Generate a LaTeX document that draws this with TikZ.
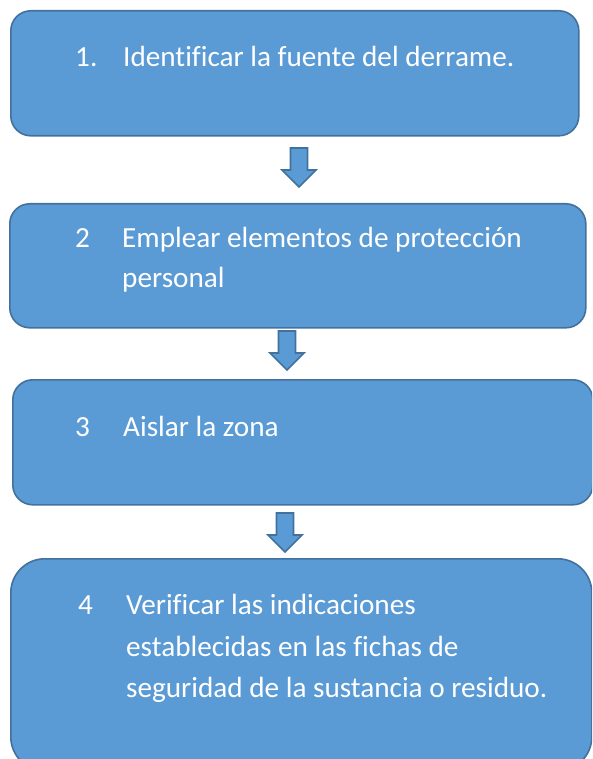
\documentclass[tikz,border=0pt]{standalone}
\usepackage{fontspec}
\setmainfont{Carlito}[Ligatures=NoCommon]
\usetikzlibrary{positioning}

\definecolor{boxfill}{HTML}{5B9BD5}
\definecolor{boxline}{HTML}{41719C}

\tikzset{
  stepbox/.style={draw=boxline, fill=boxfill, line width=1.6pt, rounded corners=20pt, anchor=north west, inner sep=0pt},
  steptext/.style={text=white, anchor=base west, inner sep=0pt, font=\fontsize{29.2}{41}\selectfont},
  downblock/.style={draw=boxline, fill=boxfill, line width=1.6pt, line join=miter}
}

\begin{document}
\begin{tikzpicture}[x=1pt,y=1pt]
    \useasboundingbox (0,0) rectangle (592,-759);
    \clip (0,0) rectangle (592,-759);

    % boxes
    \node[stepbox, minimum width=568pt, minimum height=125pt] (box1) at (10,-10) {};
    \node[stepbox, minimum width=576pt, minimum height=124pt] (box2) at (9,-203) {};
    \node[stepbox, minimum width=580pt, minimum height=125pt] (box3) at (12,-379) {};
    \node[stepbox, minimum width=581pt, minimum height=212pt, rounded corners=34pt] (box4) at (10,-558) {};

    % texts
    \node[steptext] (num1) at (75,-67) {1.};
    \node[steptext] (txt1) at (123,-67) {Identificar la fuente del derrame.};

    \node[steptext] (num2) at (75,-247) {2};
    \node[steptext] (txt2a) at (122,-247) {Emplear elementos de protección};
    \node[steptext] (txt2b) at (122,-287) {personal};

    \node[steptext] (num3) at (75,-436) {3};
    \node[steptext] (txt3) at (123,-436) {Aislar la zona};

    \node[steptext] (num4) at (78,-614) {4};
    \node[steptext] (txt4a) at (126,-614) {Verificar las indicaciones};
    \node[steptext] (txt4b) at (126,-656) {establecidas en las fichas de};
    \node[steptext] (txt4c) at (126,-697) {seguridad de la sustancia o residuo.};

    % block arrows: x / top / tip
    \foreach \x/\top/\tip in {299/148/187, 287/331/370, 285/513/552}
      \draw[downblock] (\x-8.5,-\top) -- (\x+8.5,-\top) -- (\x+8.5,-\tip+17) -- (\x+17,-\tip+17)
        -- (\x,-\tip) -- (\x-17,-\tip+17) -- (\x-8.5,-\tip+17) -- cycle;
\end{tikzpicture}
\end{document}
